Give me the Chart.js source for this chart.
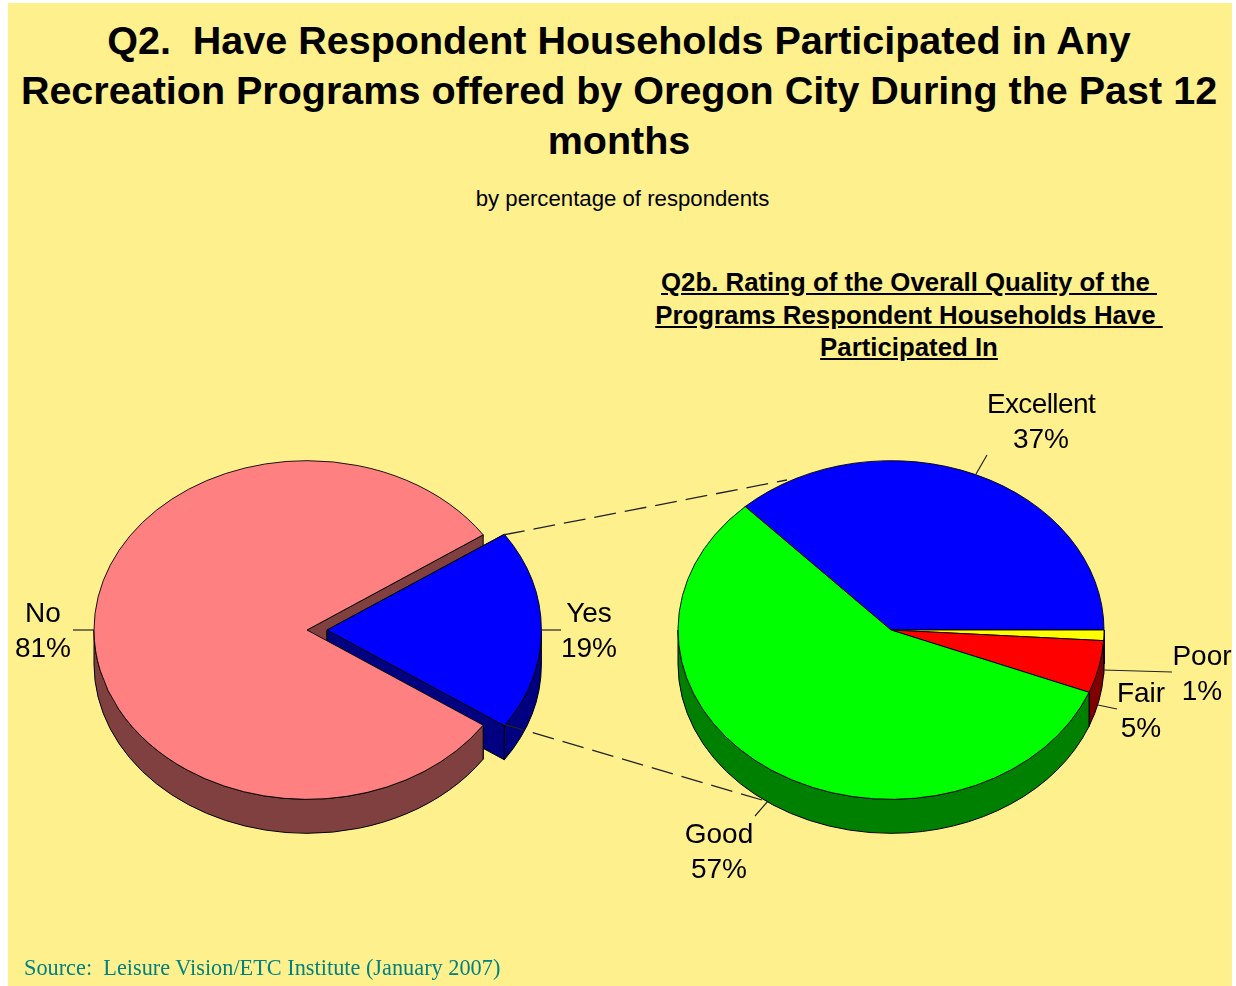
<!DOCTYPE html>
<html>
<head>
<meta charset="utf-8">
<script src="https://cdn.jsdelivr.net/npm/chart.js@4"></script>
<style>
    body { margin: 0; background: #fff; width: 1236px; height: 986px; overflow: hidden; position: relative; font-family: "Liberation Sans", Arial, sans-serif; color: #000; }
    #panel { position: absolute; left: 8px; top: 3px; width: 1224px; height: 983px; background: #FFF08E; }
    #title { position: absolute; left: 0; top: 15px; width: 1238px; text-align: center; font-size: 39.5px; font-weight: bold; line-height: 50px; white-space: pre; }
    #subtitle { position: absolute; left: 0; top: 185px; width: 1245px; text-align: center; font-size: 22.2px; line-height: 28px; }
    #subtitle2 { position: absolute; left: 603px; top: 266px; width: 612px; text-align: center; font-size: 25.8px; font-weight: bold; line-height: 32.5px; text-decoration: underline; white-space: pre; }
    #source { position: absolute; left: 24px; top: 955px; font-family: "Liberation Serif", serif; font-size: 22.3px; color: #008080; white-space: pre; }
    canvas { position: absolute; }
    #leftPie { left: 7px; top: 390px; }
    #rightPie { left: 591px; top: 390px; }
    svg { position: absolute; left: 0; top: 0; }
    .label { position: absolute; width: 120px; margin-left: -60px; text-align: center; font-size: 28px; line-height: 34.5px; }
</style>
</head>
<body>
<div id="panel"></div>
<div id="title">Q2.  Have Respondent Households Participated in Any
Recreation Programs offered by Oregon City During the Past 12
months</div>
<div id="subtitle">by percentage of respondents</div>
<div id="subtitle2">Q2b. Rating of the Overall Quality of the 
Programs Respondent Households Have 
Participated In</div>

<canvas id="leftPie" width="600" height="480"></canvas>
<canvas id="rightPie" width="600" height="480"></canvas>

<!-- connectors and leader lines -->
<svg width="1236" height="986">
    <g stroke="#222" stroke-width="1.3" stroke-dasharray="22 9">
        <line x1="503" y1="535" x2="787" y2="480"></line>
        <line x1="503" y1="724" x2="762" y2="800"></line>
    </g>
    <g stroke="#222" stroke-width="1.2">
        <line x1="73" y1="630" x2="94" y2="630"></line>
        <line x1="541" y1="630" x2="561" y2="630"></line>
        <line x1="976" y1="474" x2="987" y2="455"></line>
        <line x1="1103" y1="670" x2="1172" y2="672"></line>
        <line x1="1098" y1="705" x2="1117" y2="709"></line>
        <line x1="768" y1="801" x2="755" y2="816"></line>
    </g>
</svg>
<div id="labels"></div>
<div id="source">Source:  Leisure Vision/ETC Institute (January 2007)</div>

<script>
const participated = ['No', 'Yes'];
const participatedValues = [81, 19];
const participatedColors = ['#FF8080', '#0000FF'];
const participatedWalls = ['#804040', '#000080'];
const participatedOffsets = [0, 80];

const ratings = ['Excellent', 'Poor', 'Fair', 'Good'];
const ratingValues = [37, 1, 5, 57];
const ratingColors = ['#0000FF', '#FFFF00', '#FF0000', '#00FF00'];
const ratingWalls = ['#000080', '#808000', '#800000', '#008000'];

const SQUASH = 0.795;
const DEPTH = 34;
const TWO_PI = Math.PI * 2;

function sliceGeometry(a) {
    const mid = (a.startAngle + a.endAngle) / 2;
    const off = (a.options.offset || 0) / 4;
    return {
        cx: a.x + Math.cos(mid) * off,
        cy: a.y + Math.sin(mid) * off * SQUASH,
        r: a.outerRadius + off * (1 - Math.sin(Math.min(Math.PI, a.circumference)))
    };
}

function paint(ctx, fill) {
    ctx.fillStyle = fill;
    ctx.fill();
    ctx.strokeStyle = '#000';
    ctx.lineWidth = 1;
    ctx.stroke();
}

// the two cut faces of a slice
function drawCutFaces(ctx, a, fill) {
    const g = sliceGeometry(a);
    [a.startAngle, a.endAngle].forEach(t => {
        const px = g.cx + Math.cos(t) * g.r;
        const py = g.cy + Math.sin(t) * g.r * SQUASH;
        ctx.beginPath();
        ctx.moveTo(g.cx, g.cy);
        ctx.lineTo(px, py);
        ctx.lineTo(px, py + DEPTH);
        ctx.lineTo(g.cx, g.cy + DEPTH);
        ctx.closePath();
        paint(ctx, fill);
    });
}

// the curved wall, only on the front half of the ellipse
function drawRimWall(ctx, a, fill) {
    const g = sliceGeometry(a);
    [-TWO_PI, 0, TWO_PI].forEach(k => {
        const from = Math.max(a.startAngle, k);
        const to = Math.min(a.endAngle, k + Math.PI);
        if (to <= from) {
            return;
        }
        ctx.beginPath();
        ctx.ellipse(g.cx, g.cy, g.r, g.r * SQUASH, 0, from, to);
        ctx.ellipse(g.cx, g.cy + DEPTH, g.r, g.r * SQUASH, 0, to, from, true);
        ctx.closePath();
        paint(ctx, fill);
    });
}

// Chart.js pies are flat, so tilt them and extrude walls under the slices
const pie3d = {
    id: 'pie3d',
    beforeDatasetsDraw(chart, args, opts) {
        const ctx = chart.ctx;
        const arcs = chart.getDatasetMeta(0).data;

        arcs.forEach((a, i) => drawCutFaces(ctx, a, opts.walls[i]));
        arcs.forEach((a, i) => drawRimWall(ctx, a, opts.walls[i]));

        ctx.save();
        ctx.translate(0, arcs[0].y);
        ctx.scale(1, SQUASH);
        ctx.translate(0, -arcs[0].y);
    },
    afterDatasetsDraw(chart) {
        chart.ctx.restore();
    }
};

function makePie(id, labels, values, colors, walls, offsets, rotation) {
    return new Chart(document.getElementById(id), {
        type: 'pie',
        data: {
            labels: labels,
            datasets: [{
                data: values,
                backgroundColor: colors,
                borderColor: '#000',
                borderWidth: 1,
                offset: offsets
            }]
        },
        options: {
            responsive: false,
            animation: false,
            radius: 213,
            rotation: rotation,
            events: [],
            plugins: {
                legend: { display: false },
                tooltip: { enabled: false },
                pie3d: { walls: walls }
            }
        },
        plugins: [pie3d]
    });
}

makePie('leftPie', participated, participatedValues, participatedColors, participatedWalls, participatedOffsets, 124.2);
makePie('rightPie', ratings, ratingValues, ratingColors, ratingWalls, [0, 0, 0, 0], -43.2);

// label anchors by category name
const labelPlaces = {
    No: [43, 596], Yes: [589, 596],
    Excellent: [1041, 387], Poor: [1202, 639], Fair: [1141, 676], Good: [719, 817]
};
const labelBox = document.getElementById('labels');
function addLabels(names, values) {
    names.forEach((name, i) => {
        const el = document.createElement('div');
        el.className = 'label';
        el.style.left = labelPlaces[name][0] + 'px';
        el.style.top = labelPlaces[name][1] + 'px';
        el.innerHTML = '<span class="name">' + name + '</span><br>' + values[i] + '%';
        if (name === 'Excellent') {
            el.querySelector('.name').style.letterSpacing = '-0.6px';
        }
        labelBox.appendChild(el);
    });
}
addLabels(participated, participatedValues);
addLabels(ratings, ratingValues);
</script>
</body>
</html>
